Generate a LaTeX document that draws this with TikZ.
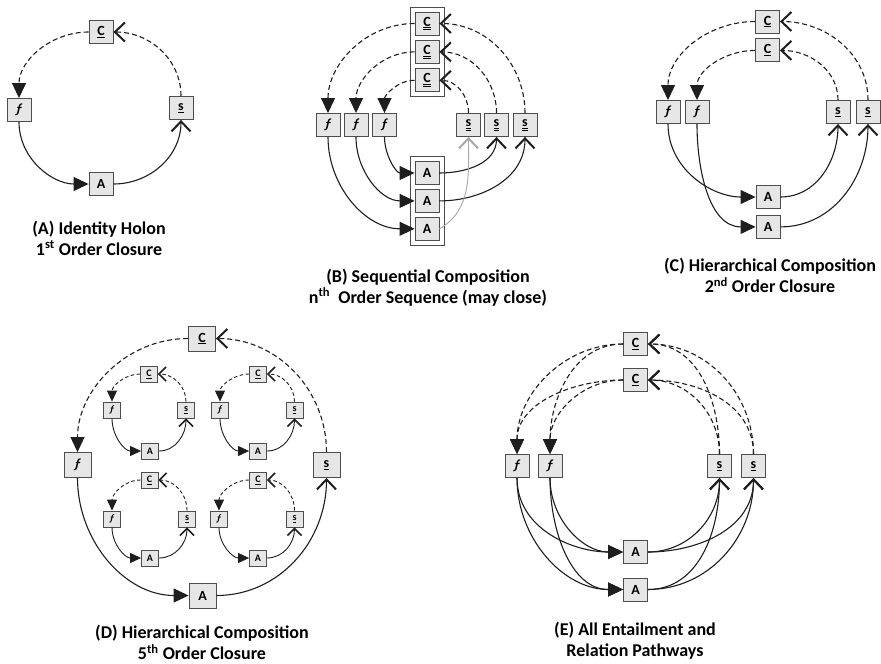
\documentclass[tikz,border=0pt]{standalone}
\usepackage{fontspec}
\setmainfont{Carlito}
\usetikzlibrary{arrows.meta, positioning, fit, backgrounds}
\definecolor{boxfill}{HTML}{E6E6E6}
\definecolor{boxline}{HTML}{4D4D4D}
\definecolor{ink}{HTML}{1E1E1E}
\definecolor{faint}{HTML}{A8A8A8}
\newcommand{\lblC}{\underline{C}}
\newcommand{\lblS}{\underline{s}}
\newcommand{\lblCC}{\underline{\underline{C}}}
\newcommand{\lblSS}{\underline{\underline{s}}}
\newcommand{\lblF}{\textit{ƒ}}

\begin{document}
\begin{tikzpicture}[
    x=1pt, y=1pt,
    holon/.style   = {draw=boxline, fill=boxfill, line width=0.9pt, inner sep=0pt,
                      minimum width=24pt, minimum height=23pt,
                      font=\bfseries\fontsize{14}{14}\selectfont},
    bigholon/.style= {holon, minimum width=27pt, minimum height=25pt},
    small/.style   = {holon, line width=0.8pt, minimum width=17pt, minimum height=16pt,
                      font=\bfseries\fontsize{10}{10}\selectfont},
    frame/.style   = {draw=boxline, line width=0.8pt, fill=white, inner sep=4.5pt},
    efficient/.style = {-{Triangle[length=15pt,width=14pt]}, line width=1.1pt, draw=ink},
    final/.style     = {efficient, dash pattern=on 5pt off 3pt},
    material/.style  = {-{Straight Barb[length=10pt,width=19pt,line width=2pt]}, line width=1.1pt, draw=ink},
    formal/.style    = {material, dash pattern=on 5pt off 3pt},
    sefficient/.style= {-{Triangle[length=11pt,width=10pt]}, line width=0.9pt, draw=ink},
    sfinal/.style    = {sefficient, dash pattern=on 3.5pt off 2.5pt},
    smaterial/.style = {-{Straight Barb[length=7pt,width=14pt,line width=1.6pt]}, line width=0.9pt, draw=ink},
    sformal/.style   = {smaterial, dash pattern=on 3.5pt off 2.5pt},
    caption/.style = {align=center, font=\bfseries\fontsize{18}{21}\selectfont},
]
\useasboundingbox (0,0) rectangle (881,-664);

% ------------------------------------------- (A) identity -------------------------------------------
\node[holon] (aC) at (101,-32)  {\lblC};
\node[holon] (af) at (19,-110)  {\lblF};
\node[holon] (as) at (181,-108) {\lblS};
\node[holon] (aA) at (101,-184) {A};
\node[caption] (acap) at (99,-238) {(A) Identity Holon\\1\textsuperscript{st} Order Closure};

\draw[final]    (aC.west)  to[out=180, in=90]  (af.north);
\draw[efficient](af.south) to[out=270, in=180] (aA.west);
\draw[material] (aA.east)  to[out=0,   in=270] (as.south);
\draw[formal]   (as.north) to[out=90,  in=0]   (aC.east);

% ------------------------------------------- (B) sequence -------------------------------------------
\node[holon] (bC1) at (427,-23.5) {\lblCC};
\node[holon, below=4.5pt of bC1] (bC2) {\lblCC};
\node[holon, below=4.5pt of bC2] (bC3) {\lblCC};
\node[holon] (bf1) at (328,-125)   {\lblF};
\node[holon] (bf2) at (356,-125)   {\lblF};
\node[holon] (bf3) at (384.5,-125) {\lblF};
\node[holon] (bs1) at (468.5,-125) {\lblSS};
\node[holon] (bs2) at (496.5,-125) {\lblSS};
\node[holon] (bs3) at (525,-125)   {\lblSS};
\node[holon] (bA1) at (427,-173) {A};
\node[holon, below=4pt of bA1] (bA2) {A};
\node[holon, below=4pt of bA2] (bA3) {A};
\node[caption] (bcap) at (428,-287.5) {(B) Sequential Composition\\n\textsuperscript{th}\ \ Order Sequence (may close)};

\begin{scope}[on background layer]
    \node[frame, fit=(bC1)(bC3)] (bCs) {};
    \node[frame, fit=(bA1)(bA3)] (bAs) {};
\end{scope}

\draw[final] (bC1.west) to[out=180, in=90] (bf1.north);
\draw[final] (bC2.west) to[out=180, in=90] (bf2.north);
\draw[final] (bC3.west) to[out=180, in=90] (bf3.north);
\draw[efficient] (bf1.south) to[out=270, in=180] (bA3.west);
\draw[efficient] (bf2.south) to[out=270, in=180] (bA2.west);
\draw[efficient] (bf3.south) to[out=270, in=180] (bA1.west);
\draw[material] (bA1.east) to[out=0, in=270] (bs2.south);
\draw[material] (bA2.east) to[out=0, in=270] (bs3.south);
\draw[material, draw=faint, line width=0.9pt] (bA3.east) to[out=30, in=270] (bs1.south);
\draw[formal] (bs1.north) to[out=90, in=0] (bC3.east);
\draw[formal] (bs2.north) to[out=90, in=0] (bC2.east);
\draw[formal] (bs3.north) to[out=90, in=0] (bC1.east);

% ------------------------------------------- (C) 2nd order -------------------------------------------
\node[holon] (cC1) at (767.5,-21.5) {\lblC};
\node[holon, below=5pt of cC1] (cC2) {\lblC};
\node[holon] (cf1) at (668,-112) {\lblF};
\node[holon] (cf2) at (697,-112) {\lblF};
\node[holon] (cs1) at (838,-112) {\lblS};
\node[holon] (cs2) at (868,-112) {\lblS};
\node[holon] (cA1) at (768,-197) {A};
\node[holon, below=6pt of cA1] (cA2) {A};
\node[caption] (ccap) at (770,-275.5) {(C) Hierarchical Composition\\2\textsuperscript{nd} Order Closure};

\draw[final] (cC1.west) to[out=180, in=90] (cf1.north);
\draw[final] (cC2.west) to[out=180, in=90] (cf2.north);
\draw[efficient] (cf1.south) to[out=270, in=180] (cA1.west);
\draw[efficient] (cf2.south) to[out=270, in=180] (cA2.west);
\draw[material] (cA1.east) to[out=0, in=270] (cs1.south);
\draw[material] (cA2.east) to[out=0, in=270] (cs2.south);
\draw[formal] (cs1.north) to[out=90, in=0] (cC2.east);
\draw[formal] (cs2.north) to[out=90, in=0] (cC1.east);

% ------------------------------------------- (D) 5th order -------------------------------------------
\node[bigholon] (dC) at (202,-338.5)   {\lblC};
\node[bigholon] (df) at (77.5,-465)    {\lblF};
\node[bigholon] (ds) at (326.5,-465)   {\lblS};
\node[bigholon] (dA) at (202.5,-595.5) {A};

% top left
\node[small] (tlC) at (149,-374) {\lblC};
\node[small] (tlf) at (112,-410) {\lblF};
\node[small] (tls) at (186,-410) {\lblS};
\node[small] (tlA) at (150,-451) {A};
% top right
\node[small] (trC) at (258,-374) {\lblC};
\node[small] (trf) at (220,-410) {\lblF};
\node[small] (trs) at (294.5,-410) {\lblS};
\node[small] (trA) at (258,-451) {A};
% bottom left
\node[small] (blC) at (149.5,-480) {\lblC};
\node[small] (blf) at (112,-519)   {\lblF};
\node[small] (bls) at (187,-519)   {\lblS};
\node[small] (blA) at (150,-558)   {A};
% bottom right
\node[small] (brC) at (258,-480)   {\lblC};
\node[small] (brf) at (219,-519)   {\lblF};
\node[small] (brs) at (294.5,-519) {\lblS};
\node[small] (brA) at (258,-558)   {A};

\node[caption] (dcap) at (202,-642.5) {(D) Hierarchical Composition\\5\textsuperscript{th} Order Closure};

\draw[final]     (dC.west)  to[out=180, in=90]  (df.north);
\draw[efficient] (df.south) to[out=270, in=180] (dA.west);
\draw[material]  (dA.east)  to[out=0,   in=270] (ds.south);
\draw[formal]    (ds.north) to[out=90,  in=0]   (dC.east);

\draw[sfinal]     (tlC.west)  to[out=180, in=90]  (tlf.north);
\draw[sefficient] (tlf.south) to[out=270, in=180] (tlA.west);
\draw[smaterial]  (tlA.east)  to[out=0,   in=270] (tls.south);
\draw[sformal]    (tls.north) to[out=90,  in=0]   (tlC.east);

\draw[sfinal]     (trC.west)  to[out=180, in=90]  (trf.north);
\draw[sefficient] (trf.south) to[out=270, in=180] (trA.west);
\draw[smaterial]  (trA.east)  to[out=0,   in=270] (trs.south);
\draw[sformal]    (trs.north) to[out=90,  in=0]   (trC.east);

\draw[sfinal]     (blC.west)  to[out=180, in=90]  (blf.north);
\draw[sefficient] (blf.south) to[out=270, in=180] (blA.west);
\draw[smaterial]  (blA.east)  to[out=0,   in=270] (bls.south);
\draw[sformal]    (bls.north) to[out=90,  in=0]   (blC.east);

\draw[sfinal]     (brC.west)  to[out=180, in=90]  (brf.north);
\draw[sefficient] (brf.south) to[out=270, in=180] (brA.west);
\draw[smaterial]  (brA.east)  to[out=0,   in=270] (brs.south);
\draw[sformal]    (brs.north) to[out=90,  in=0]   (brC.east);

% ------------------------------------------- (E) all pathways -------------------------------------------
\node[holon] (eC1) at (635.5,-344) {\lblC};
\node[holon] (eC2) at (635.5,-380) {\lblC};
\node[holon] (ef1) at (517,-466)   {\lblF};
\node[holon] (ef2) at (550,-466)   {\lblF};
\node[holon] (es1) at (719.5,-466) {\lblS};
\node[holon] (es2) at (753.5,-466) {\lblS};
\node[holon] (eA1) at (635.5,-552)   {A};
\node[holon] (eA2) at (635.5,-589.5) {A};
\node[caption] (ecap) at (635,-641) {(E) All Entailment and\\Relation Pathways};

\draw[final] (eC1.west) to[out=180, in=90] (ef1.north);
\draw[final] (eC1.west) to[out=180, in=90] (ef2.north);
\draw[final] (eC2.west) to[out=180, in=90] (ef1.north);
\draw[final] (eC2.west) to[out=180, in=90] (ef2.north);
\draw[efficient] (ef1.south) to[out=270, in=180] (eA1.west);
\draw[efficient] (ef1.south) to[out=270, in=180] (eA2.west);
\draw[efficient] (ef2.south) to[out=270, in=180] (eA1.west);
\draw[efficient] (ef2.south) to[out=270, in=180] (eA2.west);
\draw[material] (eA1.east) to[out=0, in=270] (es1.south);
\draw[material] (eA1.east) to[out=0, in=270] (es2.south);
\draw[material] (eA2.east) to[out=0, in=270] (es1.south);
\draw[material] (eA2.east) to[out=0, in=270] (es2.south);
\draw[formal] (es1.north) to[out=90, in=0] (eC1.east);
\draw[formal] (es1.north) to[out=90, in=0] (eC2.east);
\draw[formal] (es2.north) to[out=90, in=0] (eC1.east);
\draw[formal] (es2.north) to[out=90, in=0] (eC2.east);

\end{tikzpicture}
\end{document}
